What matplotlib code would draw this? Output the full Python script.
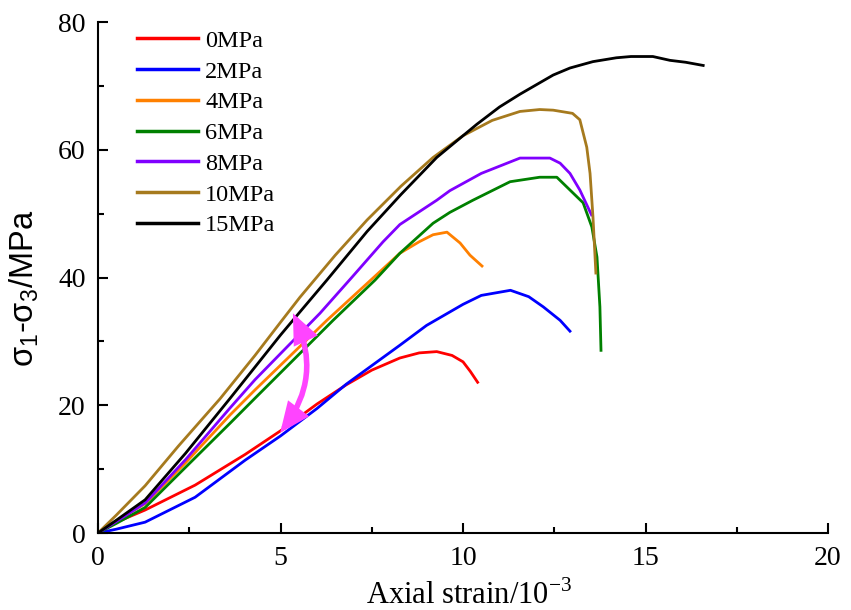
import matplotlib
matplotlib.use("Agg")
import matplotlib.pyplot as plt
from matplotlib.patches import FancyArrowPatch
from matplotlib.ticker import MultipleLocator

labels = ["0MPa", "2MPa", "4MPa", "6MPa", "8MPa", "10MPa", "15MPa"]
colors = ["#ff0000", "#0000ff", "#ff8000", "#008000", "#8000ff", "#a67a1e", "#000000"]

x_0 = [0, 0.3, 1.29, 2.66, 4.03, 5.0, 6.0, 6.8, 7.5, 8.27, 8.8, 9.28, 9.7, 10.0, 10.2, 10.4]
y_0 = [0, 1.2, 3.6, 7.5, 12.3, 16.0, 20.2, 23.2, 25.5, 27.4, 28.2, 28.4, 27.8, 26.8, 25.3, 23.6]

x_2 = [0, 0.5, 1.29, 2.66, 4.03, 5.0, 6.0, 6.8, 8.27, 9.0, 10.0, 10.5, 11.3, 11.8, 12.2, 12.66, 12.93]
y_2 = [0, 0.6, 1.7, 5.6, 11.4, 15.2, 19.5, 23.3, 29.4, 32.5, 35.8, 37.2, 38.0, 37.0, 35.4, 33.3, 31.6]

x_4 = [0, 0.5, 1.29, 2.4, 3.62, 4.3, 6.27, 7.53, 8.27, 8.8, 9.18, 9.56, 9.92, 10.19, 10.52]
y_4 = [0, 1.9, 4.6, 11.0, 18.5, 22.4, 33.3, 39.9, 43.8, 45.6, 46.7, 47.1, 45.4, 43.5, 41.8]

x_6 = [0, 0.5, 1.29, 2.4, 3.62, 4.3, 6.44, 7.59, 8.27, 9.18, 9.64, 10.27, 11.29, 12.1, 12.57, 12.93, 13.29, 13.53, 13.67, 13.75, 13.78]
y_6 = [0, 1.5, 4.0, 10.3, 17.2, 21.1, 33.3, 39.6, 43.8, 48.5, 50.2, 52.1, 55.0, 55.7, 55.7, 53.7, 51.7, 47.9, 43.2, 35.4, 28.6]

x_8 = [0, 0.5, 1.29, 2.4, 3.62, 4.3, 6.08, 6.95, 7.81, 8.27, 9.28, 9.64, 10.5, 11.56, 12.38, 12.66, 12.93, 13.2, 13.52]
y_8 = [0, 1.8, 4.7, 11.5, 19.6, 24.0, 34.4, 40.0, 45.6, 48.3, 52.1, 53.6, 56.3, 58.7, 58.7, 57.9, 56.3, 53.7, 49.8]

x_10 = [0, 0.5, 1.29, 2.2, 3.34, 4.3, 5.0, 5.53, 6.5, 7.37, 8.3, 9.18, 10.0, 10.8, 11.56, 12.1, 12.47, 13.0, 13.2, 13.39, 13.48, 13.56, 13.64]
y_10 = [0, 2.8, 7.4, 13.6, 21.0, 27.8, 33.0, 36.9, 43.5, 49.0, 54.3, 58.8, 62.2, 64.6, 66.0, 66.3, 66.2, 65.7, 64.7, 60.4, 56.3, 49.5, 40.7]

x_15 = [0, 0.5, 1.29, 2.4, 3.62, 5.0, 5.53, 6.27, 7.37, 8.3, 9.28, 10.38, 11.0, 11.56, 12.47, 12.93, 13.56, 14.2, 14.6, 15.2, 15.67, 16.1, 16.58]
y_15 = [0, 2.0, 5.2, 12.5, 21.1, 31.0, 34.6, 39.6, 47.2, 53.0, 58.8, 64.0, 66.7, 68.7, 71.7, 72.8, 73.8, 74.4, 74.6, 74.6, 74.0, 73.7, 73.2]

xs = [x_0, x_2, x_4, x_6, x_8, x_10, x_15]
ys = [y_0, y_2, y_4, y_6, y_8, y_10, y_15]

arrow_start = (5.34, 34.4)
arrow_end = (4.99, 15.7)

serif = ["Liberation Serif", "DejaVu Serif"]
sans = ["Liberation Sans", "DejaVu Sans"]

fig = plt.figure(figsize=(8.51, 6.10), dpi=100)
ax = fig.add_axes([0.1152, 0.1262, 0.8578, 0.8377])

for x, y, c, lab in zip(xs, ys, colors, labels):
    ax.plot(x, y, color=c, lw=2.0, label=lab)

arr = FancyArrowPatch(arrow_start, arrow_end, arrowstyle="<|-|>,head_length=15,head_width=6.5",
                      connectionstyle="arc3,rad=-0.3", facecolor="#ff44ff", edgecolor="#ff44ff",
                      lw=4, shrinkA=0, shrinkB=0, mutation_scale=1, joinstyle="miter", zorder=3)
ax.add_patch(arr)

ax.set_xlim(0, 20)
ax.set_ylim(0, 80)
ax.xaxis.set_major_locator(MultipleLocator(5))
ax.xaxis.set_minor_locator(MultipleLocator(2.5))
ax.yaxis.set_major_locator(MultipleLocator(20))
ax.yaxis.set_minor_locator(MultipleLocator(10))
for s in ["top", "right"]:
    ax.spines[s].set_visible(False)
for s in ["left", "bottom"]:
    ax.spines[s].set_linewidth(1.5)
ax.tick_params(which="major", direction="in", length=7, width=1.5, labelsize=20, pad=9)
ax.tick_params(which="minor", direction="in", length=4, width=1.5)
for lbl in ax.get_xticklabels() + ax.get_yticklabels():
    lbl.set_family(serif)

ax.set_xlabel("Axial strain/10$^{\\mathregular{-3}}$", fontsize=22, family=serif, va="top")
ax.xaxis.set_label_coords(0.508, -0.092)
ax.set_ylabel("σ$_{\\mathregular{1}}$-σ$_{\\mathregular{3}}$/MPa", fontsize=23.5, family=sans)
ax.yaxis.set_label_coords(-0.078, 0.479)

leg = ax.legend(loc="upper left", bbox_to_anchor=(0.03, 1.018), frameon=False,
                prop={"family": serif, "size": 17.5}, handlelength=2.5,
                labelspacing=0.36, handletextpad=0.3, borderaxespad=0.3)
for h in leg.get_lines():
    h.set_linewidth(2.5)

fig.savefig("out.png", dpi=100)
